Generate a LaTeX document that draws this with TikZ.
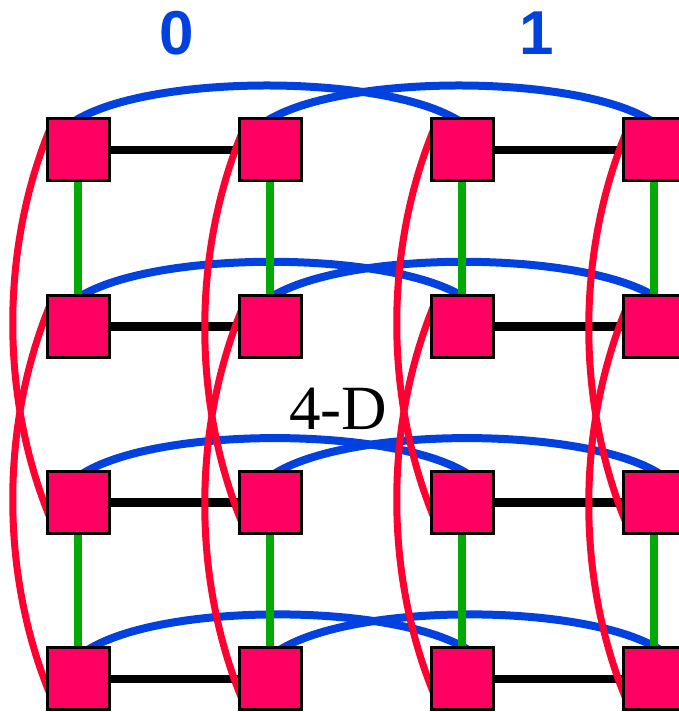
\documentclass[tikz,border=0pt]{standalone}
\usepackage{fontspec}
\newfontfamily\labelfont{Liberation Sans}
\newfontfamily\titlefont{Liberation Serif}
\usetikzlibrary{positioning,calc,backgrounds}
\definecolor{hblue}{HTML}{0041E0}
\definecolor{hred}{HTML}{FF0030}
\definecolor{hgreen}{HTML}{00AA00}
\definecolor{hpink}{HTML}{FF0062}
\tikzset{
 vertex/.style={draw=black,line width=3pt,fill=hpink,minimum size=62pt,inner sep=0pt},
 xedge/.style={line width=8.5pt,draw=black},
 yedge/.style={line width=7.5pt,draw=hgreen},
 zarc/.style={line width=8pt,draw=hblue,
   to path={.. controls +(75pt,48pt) and +(-75pt,48pt) .. (\tikztotarget)}},
 warc/.style={line width=7pt,draw=hred,
   to path={.. controls +(-49pt,-120pt) and +(-49pt,120pt) .. (\tikztotarget)}},
 cubelabel/.style={text=hblue,font=\labelfont\bfseries\fontsize{62}{62}\selectfont,inner sep=0pt}
}
\begin{document}
\begin{tikzpicture}[x=1pt,y=1pt,node distance=111.3pt and 127pt]
 \useasboundingbox (0,0) rectangle (679,712);
 % the sixteen vertices, row by row
 \node[vertex] (v11) at (78,562) {};
 \node[vertex,right=of v11] (v12) {};
 \node[vertex,right=of v12] (v13) {};
 \node[vertex,right=of v13] (v14) {};
 \node[vertex,below=of v11] (v21) {};
 \node[vertex,right=of v21] (v22) {};
 \node[vertex,right=of v22] (v23) {};
 \node[vertex,right=of v23] (v24) {};
 \node[vertex,below=of v21] (v31) {};
 \node[vertex,right=of v31] (v32) {};
 \node[vertex,right=of v32] (v33) {};
 \node[vertex,right=of v33] (v34) {};
 \node[vertex,below=of v31] (v41) {};
 \node[vertex,right=of v41] (v42) {};
 \node[vertex,right=of v42] (v43) {};
 \node[vertex,right=of v43] (v44) {};
 % labels
 \node[cubelabel] (zero) at (177,679) {0};
 \node[cubelabel] (one) at (537,679) {1};
 \node[font=\titlefont\fontsize{63}{63}\selectfont,inner sep=0pt] (dim) at (338,303) {4-D};
 \begin{pgfonlayer}{background}
 % blue arcs between the two cubes
 \draw[zarc] ([shift={(-4pt,-4pt)}]v11.north) to ([shift={(-2pt,-4pt)}]v13.north);
 \draw[zarc] ([shift={(-4pt,-4pt)}]v12.north) to ([shift={(-2pt,-4pt)}]v14.north);
 \draw[zarc] ([shift={(0pt,-4pt)}]v21.north) to ([shift={(3pt,-4pt)}]v23.north);
 \draw[zarc] ([shift={(0pt,-4pt)}]v22.north) to ([shift={(3pt,-4pt)}]v24.north);
 \draw[zarc] ([shift={(4pt,-4pt)}]v31.north) to ([shift={(6pt,-4pt)}]v33.north);
 \draw[zarc] ([shift={(4pt,-4pt)}]v32.north) to ([shift={(6pt,-4pt)}]v34.north);
 \draw[zarc] ([shift={(9pt,-4pt)}]v41.north) to ([shift={(7pt,-4pt)}]v43.north);
 \draw[zarc] ([shift={(9pt,-4pt)}]v42.north) to ([shift={(7pt,-4pt)}]v44.north);
 % black edges
 \draw[xedge] (v11)--(v12);
 \draw[xedge] (v13)--(v14);
 \draw[xedge] (v21)--(v22);
 \draw[xedge] (v23)--(v24);
 \draw[xedge] (v31)--(v32);
 \draw[xedge] (v33)--(v34);
 \draw[xedge] (v41)--(v42);
 \draw[xedge] (v43)--(v44);
 % green edges
 \draw[yedge] (v11)--(v21);
 \draw[yedge] (v12)--(v22);
 \draw[yedge] (v13)--(v23);
 \draw[yedge] (v14)--(v24);
 \draw[yedge] (v31)--(v41);
 \draw[yedge] (v32)--(v42);
 \draw[yedge] (v33)--(v43);
 \draw[yedge] (v34)--(v44);
 % red arcs
 \draw[warc] ([shift={(4pt,20pt)}]v11.west) to ([shift={(4pt,-14pt)}]v31.west);
 \draw[warc] ([shift={(4pt,20pt)}]v21.west) to ([shift={(4pt,-14pt)}]v41.west);
 \draw[warc] ([shift={(4pt,16pt)}]v12.west) to ([shift={(4pt,-19pt)}]v32.west);
 \draw[warc] ([shift={(4pt,16pt)}]v22.west) to ([shift={(4pt,-19pt)}]v42.west);
 \draw[warc] ([shift={(4pt,20pt)}]v13.west) to ([shift={(4pt,-14pt)}]v33.west);
 \draw[warc] ([shift={(4pt,20pt)}]v23.west) to ([shift={(4pt,-14pt)}]v43.west);
 \draw[warc] ([shift={(4pt,16pt)}]v14.west) to ([shift={(4pt,-19pt)}]v34.west);
 \draw[warc] ([shift={(4pt,16pt)}]v24.west) to ([shift={(4pt,-19pt)}]v44.west);
 \end{pgfonlayer}
\end{tikzpicture}
\end{document}
